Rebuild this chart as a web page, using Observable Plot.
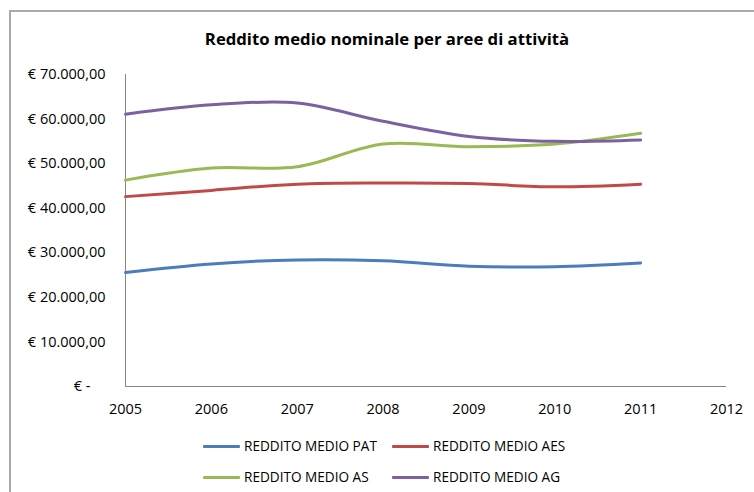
<!DOCTYPE html>
<html>
<head>
<meta charset="utf-8">
<script src="https://cdn.jsdelivr.net/npm/d3@7"></script>
<script src="https://cdn.jsdelivr.net/npm/@observablehq/plot@0.6"></script>
<style>
  html, body { margin: 0; padding: 0; background: #fff; }
  #wrap { position: relative; width: 754px; height: 492px; overflow: hidden; font-family: "Open Sans", sans-serif; }
  #frame { position: absolute; left: 9px; top: 10px; width: 760px; height: 500px; border-left: 2px solid #aaa; border-top: 2px solid #aaa; box-sizing: border-box; }
  #title { position: absolute; left: 0; width: 774px; top: 27px; text-align: center; font-weight: bold; font-size: 16.7px; color: #000; }
  #chart { position: absolute; left: 0; top: 0; width: 754px; }
  .leg { position: absolute; font-size: 13.6px; color: #000; white-space: nowrap; line-height: 16px; }
  .leg span.sw { display: inline-block; width: 37px; height: 3px; vertical-align: middle; margin-right: 4px; position: relative; top: -1px; border-radius: 1px; }
</style>
</head>
<body>
<div id="wrap">
  <div id="frame"></div>
  <div id="chart"></div>
  <div id="title">Reddito medio nominale per aree di attività</div>
  <div id="legend"></div>
</div>
<script>
const years = [2005, 2006, 2007, 2008, 2009, 2010, 2011];
const seriesNames = ["REDDITO MEDIO PAT", "REDDITO MEDIO AES", "REDDITO MEDIO AS", "REDDITO MEDIO AG"];
const pat = [25600, 27500, 28400, 28200, 27000, 26850, 27700];
const aes = [42600, 44000, 45400, 45650, 45550, 44800, 45400];
const as_ = [46300, 49000, 49300, 54400, 53800, 54400, 56800];
const ag  = [61100, 63200, 63600, 59500, 56100, 55000, 55300];
const colors = ["#4A7EBB", "#BE4B48", "#98B954", "#7D60A0"];
const yTicks = [0, 10000, 20000, 30000, 40000, 50000, 60000, 70000];
const xTicks = [2005, 2006, 2007, 2008, 2009, 2010, 2011, 2012];

const allValues = [pat, aes, as_, ag];
const data = [];
seriesNames.forEach((name, i) => {
  years.forEach((yr, j) => data.push({ serie: name, year: yr, value: allValues[i][j] }));
});

const fmt = v => v === 0 ? "€ -\u00a0\u00a0\u00a0\u00a0" : "€ " + d3.format(",.2f")(v).replace(/,/g, "#").replace(/\./g, ",").replace(/#/g, ".");

const chart = Plot.plot({
  width: 754,
  height: 492,
  marginLeft: 125,
  marginRight: 28,
  marginTop: 74,
  marginBottom: 106,
  style: { fontFamily: "Open Sans, sans-serif", fontSize: "14.5px", color: "#000", background: "transparent", maxWidth: "none" },
  x: { domain: [2005, 2012], label: null },
  y: { domain: [0, 70000], label: null },
  color: { domain: seriesNames, range: colors },
  marks: [
    Plot.axisX({ ticks: xTicks, tickFormat: d => String(d), tickSize: 0, tickPadding: 17, label: null, fontSize: 14.5 }),
    Plot.axisY({ ticks: yTicks, tickFormat: fmt, tickSize: 0, tickPadding: 20, label: null, fontSize: 14.5 }),
    Plot.ruleX([2005], { stroke: "#868686", strokeWidth: 1 }),
    Plot.ruleY([0], { stroke: "#868686", strokeWidth: 1 }),
    Plot.line(data, { x: "year", y: "value", z: "serie", stroke: "serie", strokeWidth: 3, curve: "catmull-rom" })
  ]
});
chart.querySelectorAll("text").forEach(t => { t.style.fontSize = "14.5px"; t.style.fontFamily = "'Open Sans', sans-serif"; t.style.fill = "#000"; });
document.getElementById("chart").appendChild(chart);

const legend = document.getElementById("legend");
const pos = [[203, 438], [392, 438], [203, 469], [392, 469]];
seriesNames.forEach((name, i) => {
  const d = document.createElement("div");
  d.className = "leg";
  d.style.left = pos[i][0] + "px";
  d.style.top = pos[i][1] + "px";
  d.innerHTML = `<span class="sw" style="background:${colors[i]}"></span>${name}`;
  legend.appendChild(d);
});
</script>
</body>
</html>
